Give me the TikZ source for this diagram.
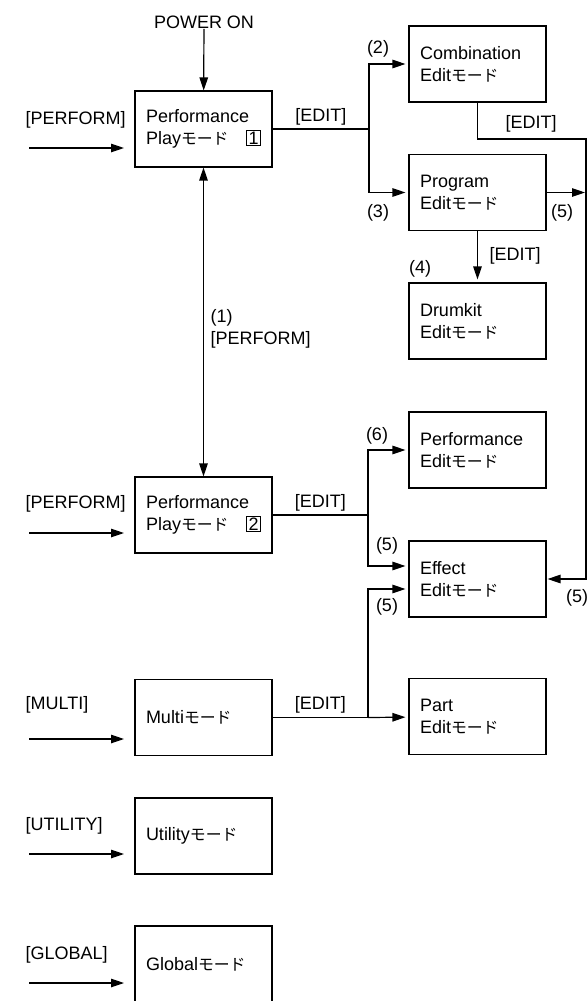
\documentclass[tikz,border=0pt]{standalone}
\usepackage{fontspec}
\setmainfont{Liberation Sans}
\newfontfamily\jp[Scale=0.88]{Noto Sans CJK JP}
\usetikzlibrary{arrows.meta,positioning}
\newcommand{\jmode}{{\jp モード}}
\newcommand{\numbox}[1]{{\setlength{\fboxsep}{0.8pt}\setlength{\fboxrule}{1pt}\fbox{\makebox[11pt]{#1}}}}

\begin{document}
\begin{tikzpicture}[x=1pt,y=-1pt,line width=1.2pt,>={Triangle[length=13pt,width=8.5pt]},
        font=\fontsize{18}{22}\selectfont,
        mode/.style={draw,rectangle,line width=1.1pt,minimum width=137pt,minimum height=76pt,text width=115pt,inner xsep=11pt,align=left},
        lbl/.style={inner sep=0pt}]
        \useasboundingbox (0,0) rectangle (588,1001);

        % left column
        \node[mode] (p1) at (203.5,129) {Performance\\Play\jmode\hfill\numbox{1}};
        \node[mode] (p2) at (203.5,515) {Performance\\Play\jmode\hfill\numbox{2}};
        \node[mode] (multi) at (203.5,717.5) {Multi\jmode};
        \node[mode] (util) at (203.5,836) {Utility\jmode};
        \node[mode] (glob) at (203.5,964) {Global\jmode};

        % right column
        \node[mode] (comb) at (477.5,64) {Combination\\Edit\jmode};
        \node[mode] (prog) at (477.5,192.5) {Program\\Edit\jmode};
        \node[mode] (drum) at (477.5,321) {Drumkit\\Edit\jmode};
        \node[mode] (pedit) at (477.5,450) {Performance\\Edit\jmode};
        \node[mode] (eff) at (477.5,579) {Effect\\Edit\jmode};
        \node[mode] (part) at (477.5,716.5) {Part\\Edit\jmode};

        \node[lbl] (pw) at (204,22) {POWER ON};
        \draw[->] (pw) -- (p1);

        % key inputs
        \node[lbl,anchor=west] (k1) at (25,120) {[PERFORM]};
        \coordinate (k1s) at (29,148);
        \coordinate (k1e) at (124,148);
        \draw[->] (k1s) -- (k1e);
        \node[lbl,anchor=west] (k2) at (25,504) {[PERFORM]};
        \coordinate (k2s) at (29,533);
        \coordinate (k2e) at (124,533);
        \draw[->] (k2s) -- (k2e);
        \node[lbl,anchor=west] (k3) at (25,705) {[MULTI]};
        \coordinate (k3s) at (29,739);
        \coordinate (k3e) at (124,739);
        \draw[->] (k3s) -- (k3e);
        \node[lbl,anchor=west] (k4) at (25,826) {[UTILITY]};
        \coordinate (k4s) at (29,854);
        \coordinate (k4e) at (124,854);
        \draw[->] (k4s) -- (k4e);
        \node[lbl,anchor=west] (k5) at (25,955) {[GLOBAL]};
        \coordinate (k5s) at (29,983);
        \coordinate (k5e) at (124,983);
        \draw[->] (k5s) -- (k5e);

        % play 1 <-> play 2
        \draw[<->] (p1) -- (p2);
        \node[lbl,anchor=west] (n1) at (210,318) {(1)};
        \node[lbl,anchor=west] (n1k) at (210,340) {[PERFORM]};

        % play 1 edit
        \coordinate (f1) at (369,129);
        \draw (p1.east) -- node[above] (e1) {[EDIT]} (f1);
        \draw[->,shorten >=3pt] (f1) |- (comb);
        \draw[->,shorten >=3pt] (f1) |- (prog);
        \node[lbl] (n2) at (378,49) {(2)};
        \node[lbl] (n3) at (378,213) {(3)};

        \coordinate (rt) at (586,139);
        \coordinate (rb) at (586,579);
        \draw[->,shorten >=1pt] (comb.south) |- (rt) -- (rb) -- (eff);
        \node[lbl] (e2) at (531,124) {[EDIT]};
        \node[lbl] (n5c) at (577,598) {(5)};

        \coordinate (rp) at (585,192.5);
        \draw[->] (prog.east) -- (rp);
        \node[lbl] (n5p) at (562,213) {(5)};

        \draw[->,shorten >=3pt] (prog) -- (drum);
        \node[lbl] (e3) at (515,256) {[EDIT]};
        \node[lbl] (n4) at (420,269) {(4)};

        % play 2 edit
        \coordinate (f2) at (368,515);
        \draw (p2.east) -- node[above] (e4) {[EDIT]} (f2);
        \draw[->,shorten >=3pt] (f2) |- (pedit);
        \draw[->,shorten >=3pt] (f2) |- ([yshift=13pt]eff.west);
        \node[lbl] (n6) at (377,436) {(6)};
        \node[lbl] (n5e) at (387,546) {(5)};

        % multi edit
        \coordinate (f3) at (368,717.5);
        \draw (multi) -- node[above] (e5) {[EDIT]} (f3);
        \draw[->,shorten >=3pt] (f3) -- (part);
        \draw[->,shorten >=3pt] (f3) |- ([yshift=-10pt]eff.west);
        \node[lbl] (n5m) at (387,607) {(5)};
    \end{tikzpicture}
\end{document}
